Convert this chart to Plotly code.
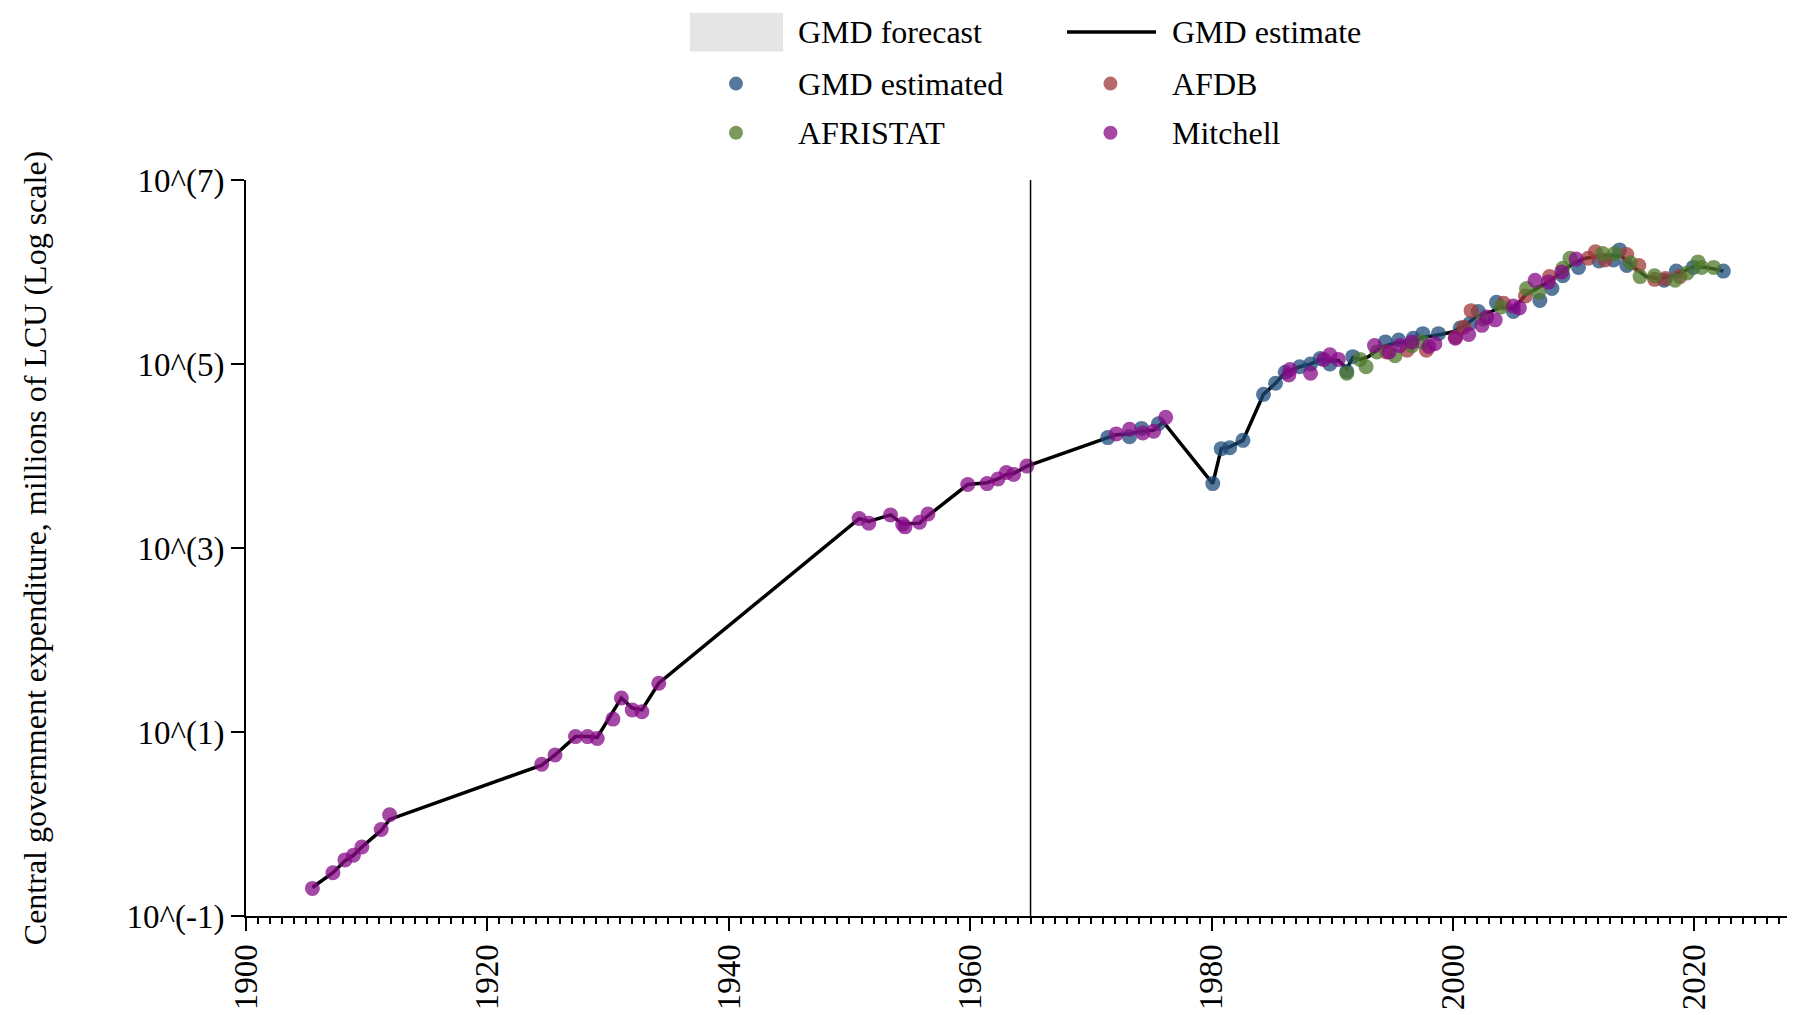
import plotly.graph_objects as go

# values are log10 of central government expenditure (millions of LCU)
line_years = [1905.5, 1907.2, 1908.2, 1908.9, 1909.6, 1911.2, 1911.9,
              1924.5, 1925.6, 1927.3, 1928.3, 1929.1, 1931.1, 1932.0, 1932.8, 1934.2,
              1950.8, 1951.6, 1953.4, 1954.4, 1955.8, 1956.5, 1959.8, 1961.4, 1962.3,
              1963.0, 1963.6, 1964.7, 1971.4, 1972.1, 1973.2, 1974.2, 1975.2, 1976.0,
              1980.1, 1980.8, 1981.5, 1982.6, 1984.3, 1985.3, 1986.1, 1987.3, 1988.2,
              1989.0, 1989.8, 1990.5, 1991.2, 1991.7, 1992.3, 1993.0, 1994.0, 1995.0,
              1996.0, 1997.0, 1998.0, 1999.0, 2000.0, 2001.0, 2002.0, 2003.0, 2004.0,
              2005.0, 2006.0, 2007.0, 2008.0, 2009.0, 2010.0, 2011.0, 2012.0, 2013.0,
              2014.0, 2015.0, 2016.0, 2017.0, 2018.0, 2019.0, 2020.0, 2021.0, 2022.4]
line_log = [-0.69, -0.53, -0.40, -0.34, -0.25, -0.07, 0.05,
            0.64, 0.75, 0.95, 0.95, 0.94, 1.37, 1.26, 1.24, 1.53,
            3.32, 3.29, 3.36, 3.26, 3.27, 3.35, 3.69, 3.71, 3.75,
            3.80, 3.81, 3.89, 4.20, 4.23, 4.24, 4.27, 4.28, 4.37,
            3.70, 4.08, 4.10, 4.17, 4.67, 4.79, 4.91, 4.97, 5.00,
            5.05, 5.03, 5.04, 4.95, 5.07, 5.05, 5.08, 5.18, 5.22,
            5.24, 5.28, 5.30, 5.32, 5.35, 5.42, 5.52, 5.56, 5.62,
            5.60, 5.75, 5.83, 5.90, 6.00, 6.10, 6.15, 6.17, 6.18,
            6.17, 6.05, 5.95, 5.93, 5.95, 6.00, 6.06, 6.05, 6.01]

gmd_years = [1971.4, 1973.2, 1974.2, 1975.6, 1980.1, 1980.8, 1981.5, 1982.6, 1984.3,
             1985.3, 1986.1, 1987.3, 1988.2, 1989.0, 1989.8, 1991.2, 1991.7, 1994.4,
             1995.5, 1996.7, 1997.5, 1998.8, 2000.6, 2001.4, 2002.1, 2003.6, 2005.0,
             2007.2, 2008.2, 2009.1, 2010.4, 2012.1, 2013.3, 2013.8, 2014.4, 2017.5,
             2018.5, 2019.9, 2022.4]
gmd_log = [4.20, 4.21, 4.30, 4.35, 3.70, 4.08, 4.09, 4.17, 4.67,
           4.79, 4.91, 4.97, 5.00, 5.06, 5.00, 4.92, 5.08, 5.24,
           5.26, 5.28, 5.33, 5.33, 5.39, 5.44, 5.57, 5.67, 5.57,
           5.69, 5.82, 5.96, 6.05, 6.12, 6.13, 6.24, 6.07, 5.91,
           6.01, 6.05, 6.01]

afdb_years = [1994.5, 1996.2, 1997.8, 2000.2, 2000.9, 2001.5, 2004.2, 2006.0, 2008.0,
              2011.2, 2011.8, 2012.6, 2014.4, 2015.4, 2016.7, 2017.6, 2018.8]
afdb_log = [5.13, 5.15, 5.15, 5.29, 5.40, 5.58, 5.66, 5.74, 5.95,
            6.15, 6.22, 6.13, 6.19, 6.07, 5.92, 5.93, 5.95]

afristat_years = [1991.2, 1992.3, 1992.8, 1993.7, 1995.2, 1996.6, 1997.4, 2002.5, 2004.0,
                  2006.1, 2007.1, 2009.1, 2009.7, 2012.4, 2013.4, 2014.7, 2015.5, 2016.7,
                  2018.4, 2019.4, 2020.3, 2020.6, 2021.6]
afristat_log = [4.90, 5.05, 4.97, 5.13, 5.09, 5.20, 5.24, 5.49, 5.62,
                5.82, 5.78, 6.04, 6.15, 6.20, 6.20, 6.10, 5.95, 5.96,
                5.91, 5.99, 6.11, 6.05, 6.05]

mitchell_years = [1905.5, 1907.2, 1908.2, 1908.9, 1909.6, 1911.2, 1911.9,
                  1924.5, 1925.6, 1927.3, 1928.3, 1929.1, 1930.4, 1931.1, 1932.0, 1932.8, 1934.2,
                  1950.8, 1951.6, 1953.4, 1954.4, 1954.6, 1955.8, 1956.5, 1959.8, 1961.4,
                  1962.3, 1963.0, 1963.6, 1964.7,
                  1972.1, 1973.2, 1974.3, 1975.2, 1976.2,
                  1986.4, 1986.5, 1988.2, 1989.3, 1989.8, 1990.5,
                  1993.5, 1994.7, 1995.6, 1996.6, 1998.0, 1998.5, 2000.2, 2001.3, 2002.4,
                  2002.8, 2003.5, 2005.0, 2005.5, 2006.8, 2007.9, 2009.0, 2010.2]
mitchell_log = [-0.70, -0.53, -0.39, -0.34, -0.25, -0.06, 0.10,
                0.65, 0.75, 0.95, 0.95, 0.93, 1.14, 1.37, 1.24, 1.22, 1.53,
                3.32, 3.27, 3.36, 3.26, 3.23, 3.28, 3.37, 3.69, 3.70,
                3.75, 3.82, 3.80, 3.89,
                4.24, 4.29, 4.25, 4.27, 4.42,
                4.88, 4.94, 4.90, 5.05, 5.10, 5.05,
                5.20, 5.13, 5.20, 5.24, 5.19, 5.22, 5.28, 5.32, 5.42,
                5.51, 5.48, 5.63, 5.61, 5.91, 5.89, 6.00, 6.14]

tick_vals = [0.1, 10, 1000, 1e5, 1e7]
tick_text = ["10^(-1)", "10^(1)", "10^(3)", "10^(5)", "10^(7)"]

FONT = "Liberation Serif, Times New Roman, serif"
colors = {
    "GMD estimated": "rgb(30,75,120)",
    "AFDB": "rgb(160,56,56)",
    "AFRISTAT": "rgb(77,120,43)",
    "Mitchell": "rgb(135,10,135)",
}


def to_level(logs):
    return [10 ** v for v in logs]


fig = go.Figure()
fig.add_trace(go.Scatter(x=line_years, y=to_level(line_log), mode="lines",
                         line=dict(color="black", width=3.5), name="GMD estimate"))
for name, xs, ys in [("GMD estimated", gmd_years, gmd_log),
                     ("AFDB", afdb_years, afdb_log),
                     ("AFRISTAT", afristat_years, afristat_log),
                     ("Mitchell", mitchell_years, mitchell_log)]:
    fig.add_trace(go.Scatter(x=xs, y=to_level(ys), mode="markers", name=name,
                             marker=dict(color=colors[name], size=15, opacity=0.75,
                                         line=dict(width=0))))

# vertical marker at 1965
fig.add_shape(type="line", x0=1965, x1=1965, xref="x", yref="paper", y0=0, y1=1,
              line=dict(color="black", width=1.5))

# hand-drawn legend (two columns above the plot)
col_sym = [0.3147, 0.5552]
col_txt = [0.3530, 0.5934]
rows = [1.2011, 1.131, 1.0641]
fig.add_shape(type="rect", xref="paper", yref="paper", x0=0.2852, x1=0.3449,
              y0=1.1746, y1=1.2274, fillcolor="#e5e5e5", line=dict(width=0))
fig.add_shape(type="line", xref="paper", yref="paper", x0=0.5273, x1=0.5845,
              y0=rows[0], y1=rows[0], line=dict(color="black", width=3.5))
legend_items = [("GMD forecast", 0, 0, None), ("GMD estimate", 1, 0, None),
                ("GMD estimated", 0, 1, "GMD estimated"), ("AFDB", 1, 1, "AFDB"),
                ("AFRISTAT", 0, 2, "AFRISTAT"), ("Mitchell", 1, 2, "Mitchell")]
for label, c, r, key in legend_items:
    if key:
        fig.add_shape(type="circle", xref="paper", yref="paper",
                      xsizemode="pixel", ysizemode="pixel",
                      xanchor=col_sym[c], yanchor=rows[r],
                      x0=-7, x1=7, y0=-7, y1=7,
                      fillcolor=colors[key], opacity=0.75, line=dict(width=0))
    fig.add_annotation(text=label, xref="paper", yref="paper", x=col_txt[c], y=rows[r],
                       xanchor="left", yanchor="middle", showarrow=False,
                       font=dict(family=FONT, size=32, color="black"))

fig.update_layout(
    width=1795, height=1015,
    plot_bgcolor="white", paper_bgcolor="white",
    margin=dict(l=238, r=0, t=172, b=107),
    showlegend=False,
    font=dict(family=FONT, size=32, color="black"),
)
fig.update_xaxes(
    range=[1900, 2029.0], tick0=1900, dtick=20, tickangle=-90,
    showline=True, linecolor="black", linewidth=2,
    ticks="outside", ticklen=13, tickwidth=2, tickcolor="black",
    minor=dict(dtick=1, ticks="outside", ticklen=6, tickwidth=1.5, tickcolor="black"),
    showgrid=False, zeroline=False, tickfont=dict(size=33),
)
fig.update_yaxes(
    type="log", range=[-1, 7], tickvals=tick_vals, ticktext=tick_text,
    showline=True, linecolor="black", linewidth=2,
    ticks="outside", ticklen=13, tickwidth=2, tickcolor="black",
    showgrid=False, zeroline=False, tickfont=dict(size=33),
    title=dict(text="Central government expenditure, millions of LCU (Log scale)",
               font=dict(size=32), standoff=70),
)

fig.write_html("out.html")
